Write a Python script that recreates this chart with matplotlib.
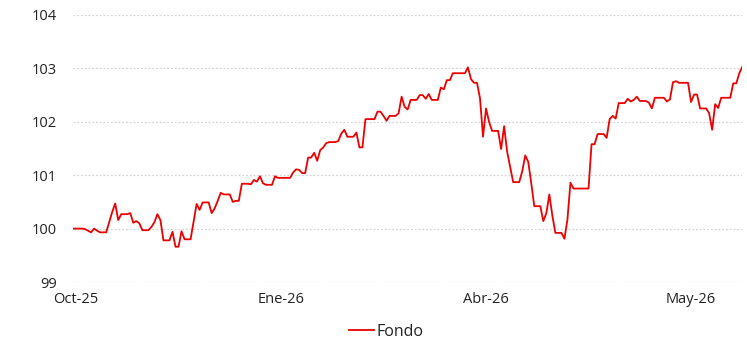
import matplotlib
matplotlib.use("Agg")
import matplotlib.pyplot as plt

# serie diaria del fondo (base 100)
fondo = [
    100.00, 100.00, 100.00, 100.00, 99.99, 99.96, 99.93, 100.00, 99.96, 99.93,
    99.93, 99.93, 100.12, 100.31, 100.47, 100.16, 100.27, 100.27, 100.27, 100.29,
    100.11, 100.14, 100.10, 99.97, 99.97, 99.97, 100.03, 100.12, 100.27, 100.16,
    99.78, 99.78, 99.78, 99.94, 99.66, 99.66, 99.95, 99.80, 99.80, 99.80,
    100.13, 100.46, 100.35, 100.49, 100.49, 100.49, 100.29, 100.38, 100.52, 100.67,
    100.64, 100.64, 100.64, 100.50, 100.52, 100.52, 100.84, 100.84, 100.84, 100.83,
    100.91, 100.88, 100.98, 100.85, 100.82, 100.82, 100.82, 100.98, 100.95, 100.95,
    100.95, 100.95, 100.95, 101.05, 101.11, 101.10, 101.04, 101.04, 101.33, 101.33,
    101.42, 101.27, 101.47, 101.52, 101.60, 101.62, 101.62, 101.62, 101.64, 101.78,
    101.85, 101.72, 101.72, 101.72, 101.80, 101.52, 101.52, 102.05, 102.05, 102.05,
    102.05, 102.19, 102.19, 102.11, 102.02, 102.11, 102.11, 102.11, 102.16, 102.47,
    102.28, 102.23, 102.41, 102.41, 102.41, 102.50, 102.50, 102.43, 102.52, 102.41,
    102.41, 102.41, 102.64, 102.61, 102.78, 102.78, 102.91, 102.91, 102.91, 102.91,
    102.91, 103.02, 102.80, 102.73, 102.73, 102.44, 101.72, 102.25, 102.00, 101.83,
    101.83, 101.83, 101.49, 101.92, 101.44, 101.16, 100.87, 100.87, 100.87, 101.07,
    101.37, 101.25, 100.85, 100.42, 100.42, 100.42, 100.14, 100.29, 100.64, 100.24,
    99.92, 99.92, 99.92, 99.81, 100.17, 100.86, 100.75, 100.75, 100.75, 100.75,
    100.75, 100.75, 101.58, 101.58, 101.77, 101.77, 101.77, 101.70, 102.05, 102.11,
    102.06, 102.35, 102.35, 102.35, 102.43, 102.38, 102.41, 102.47, 102.39, 102.39,
    102.39, 102.36, 102.25, 102.45, 102.45, 102.45, 102.45, 102.38, 102.42, 102.74,
    102.76, 102.73, 102.73, 102.73, 102.73, 102.37, 102.51, 102.51, 102.25, 102.25,
    102.25, 102.16, 101.85, 102.33, 102.26, 102.45, 102.45, 102.45, 102.45, 102.72,
    102.72, 102.91, 103.03,
]
meses = ["Oct-25", "Ene-26", "Abr-26", "May-26"]
y_ticks = [99, 100, 101, 102, 103, 104]

plt.rcParams["font.family"] = ["Open Sans", "DejaVu Sans"]

W, H = 747, 344
fig = plt.figure(figsize=(W / 100, H / 100), dpi=100)
ax = fig.add_axes([73 / W, 1 - 282 / H, (742.3 - 73) / W, (282 - 15) / H])

x = list(range(len(fondo)))
ax.plot(x, fondo, color="#ec0000", lw=1.3, label="Fondo")

ax.set_xlim(0, len(fondo) - 1)
ax.set_ylim(99, 104)
ax.set_yticks(y_ticks)
ax.set_yticklabels([str(v) for v in y_ticks])

# una etiqueta cada 68 sesiones
paso = 68
ax.set_xticks([1 + paso * k for k in range(len(meses))])
ax.set_xticklabels(meses)

ax.grid(axis="y", color="#d4d4d4", lw=0.9, ls=(0, (1.5, 1.5)))
ax.set_axisbelow(True)
for s in ax.spines.values():
    s.set_visible(False)
ax.tick_params(axis="both", length=0, labelsize=10.5, colors="#222222")
ax.tick_params(axis="y", pad=11.5)
ax.tick_params(axis="x", pad=7.5)

fig.legend(loc="center", bbox_to_anchor=(386 / W, 1 - 332 / H), frameon=False,
           fontsize=11.5, handlelength=1.6, handletextpad=0.1,
           labelcolor="#222222")

fig.savefig("out.png", dpi=100)
